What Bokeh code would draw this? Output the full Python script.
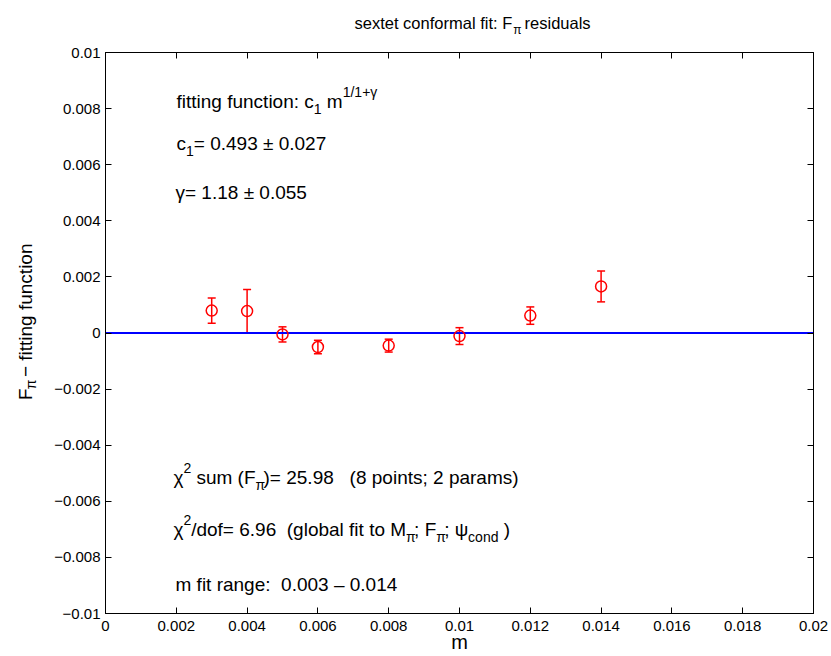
import math
from bokeh.plotting import figure
from bokeh.models import (Range1d, LinearAxis, FixedTicker, Whisker,
                          ColumnDataSource, TeeHead)
from bokeh.layouts import column, row
from bokeh.core.properties import value
from bokeh.embed import file_html
from bokeh.resources import INLINE

# ---------------- data ----------------
m_values = [0.003, 0.004, 0.005, 0.006, 0.008, 0.010, 0.012, 0.014]
residuals = [0.00080, 0.00078, -0.00005, -0.00050, -0.00045, -0.00011, 0.00062, 0.00166]
errors = [0.00045, 0.00077, 0.00027, 0.00024, 0.00023, 0.00030, 0.00031, 0.00055]

fit_m = [0.0, 0.02]
fit_res = [0.0, 0.0]

x_ticks = [0.0, 0.002, 0.004, 0.006, 0.008, 0.01, 0.012, 0.014, 0.016, 0.018, 0.02]
x_tick_labels = ["0", "0.002", "0.004", "0.006", "0.008", "0.01", "0.012",
                 "0.014", "0.016", "0.018", "0.02"]
y_ticks = [-0.01, -0.008, -0.006, -0.004, -0.002, 0.0, 0.002, 0.004, 0.006, 0.008, 0.01]
y_tick_labels = ["\u22120.01", "\u22120.008", "\u22120.006", "\u22120.004", "\u22120.002",
                 "0", "0.002", "0.004", "0.006", "0.008", "0.01"]

x_label = "m"
title_parts = [("sextet conformal fit: F", "n"), ("\u03c0", "sub"), (" residuals", "n")]
y_label_parts = [("F", "n"), ("\u03c0", "sub"), (" \u2212 fitting function", "n")]

note_lines = [
    [("fitting function: c", "n"), ("1", "sub"), (" m", "n"), ("1/1+\u03b3", "sup")],
    [("c", "n"), ("1", "sub"), ("= 0.493 \u00b1 0.027", "n")],
    [("\u03b3= 1.18 \u00b1 0.055", "n")],
    [("\u03c7", "n"), ("2", "sup"), (" sum (F", "n"), ("\u03c0", "sub"),
     (")= 25.98   ", "n"), ("(8 points; 2 params)", "n")],
    [("\u03c7", "n"), ("2", "sup"), ("/dof= 6.96  ", "n"), ("(global fit to M", "n"),
     ("\u03c0", "sub"), ("; F", "n"), ("\u03c0", "sub"), ("; \u03c8", "n"),
     ("cond", "sub"), (" )", "n")],
    [("m fit range:  ", "n"), ("0.003 \u2013 0.014", "n")],
]

# ---------------- layout ----------------
W, H = 831, 656
TITLE_H = 44
YLAB_W = 45
MAIN_W, MAIN_H = W - YLAB_W, H - TITLE_H
L2, R, T2, B = 60, 18, 8, 43
FL = YLAB_W + L2              # frame left on the canvas
FT = TITLE_H + T2             # frame top on the canvas
FW = MAIN_W - L2 - R
FH = MAIN_H - T2 - B
XMIN, XMAX = 0.0, 0.02
YMIN, YMAX = -0.01, 0.01
FONT = "Liberation Sans"
MAIN = 19.0
SUB = 14.0

# note placement (canvas pixels: start x, baseline y)
note_pos = [(176, 101), (176, 143), (175, 192), (173, 477), (173, 529), (175, 584)]

EM = {' ': .278, '(': .333, ')': .333, '+': .584, ',': .278, '-': .333, '.': .278,
      '/': .278, ':': .278, ';': .278, '=': .584, 'F': .611, 'M': .833,
      'a': .556, 'b': .556, 'c': .5, 'd': .556, 'e': .556, 'f': .278, 'g': .556,
      'i': .222, 'l': .222, 'm': .833, 'n': .556, 'o': .556, 'p': .556, 'r': .333,
      's': .5, 't': .278, 'u': .556, '\u00b1': .584, '\u2013': .556, '\u2212': .584,
      '\u03b3': .5, '\u03c0': .57, '\u03c7': .52, '\u03c8': .70}


def text_w(s, size):
    return sum(EM.get(ch, .556) for ch in s) * size


def layout_parts(parts, x0, y0, size, sub_size, sub_dy, sup_dy):
    """Returns list of (text, advance_pos, cross_offset, size) with leading
    spaces turned into advances (SVG trims them)."""
    out = []
    pos = x0
    for txt, kind in parts:
        sz = size if kind == "n" else sub_size
        off = 0.0 if kind == "n" else (sub_dy if kind == "sub" else sup_dy)
        lead = len(txt) - len(txt.lstrip(" "))
        body = txt.strip(" ")
        trail = len(txt) - len(txt.rstrip(" ")) if body else 0
        pos += lead * EM[' '] * sz
        out.append((body, pos, y0 + off, sz))
        pos += text_w(body, sz) + trail * EM[' '] * sz
    return out


# ---------------- main figure ----------------
p = figure(width=MAIN_W, height=MAIN_H, x_range=Range1d(XMIN, XMAX),
           y_range=Range1d(YMIN, YMAX), output_backend="svg", toolbar_location=None,
           min_border_left=L2, min_border_right=R, min_border_top=T2,
           min_border_bottom=B)
p.xgrid.visible = False
p.ygrid.visible = False
p.outline_line_color = "#000000"
p.background_fill_color = "white"
p.border_fill_color = "white"


def style_axis(ax, ticks, labels, show):
    ax.ticker = FixedTicker(ticks=ticks)
    ax.major_label_overrides = {t: (s if show else "") for t, s in zip(ticks, labels)}
    ax.major_tick_in = 6
    ax.major_tick_out = 0
    ax.minor_tick_in = 0
    ax.minor_tick_out = 0
    ax.axis_line_color = "#000000"
    ax.major_tick_line_color = "#000000"
    ax.major_label_text_font = FONT
    ax.major_label_text_font_size = "15px"
    ax.major_label_text_color = "#000000"


style_axis(p.xaxis[0], x_ticks, x_tick_labels, True)
p.xaxis[0].major_label_standoff = 7
p.xaxis[0].axis_label = x_label
p.xaxis[0].axis_label_text_font = FONT
p.xaxis[0].axis_label_text_font_size = "20px"
p.xaxis[0].axis_label_text_font_style = "normal"
p.xaxis[0].axis_label_text_color = "#000000"
p.xaxis[0].axis_label_standoff = -3
style_axis(p.yaxis[0], y_ticks, y_tick_labels, True)
p.yaxis[0].major_label_standoff = 5

top_ax = LinearAxis()
right_ax = LinearAxis()
style_axis(top_ax, x_ticks, x_tick_labels, False)
style_axis(right_ax, y_ticks, y_tick_labels, False)
for ax in (top_ax, right_ax):
    ax.major_label_text_font_size = "1px"
    ax.major_label_standoff = 0
p.add_layout(top_ax, "above")
p.add_layout(right_ax, "right")

p.line(fit_m, fit_res, line_color="#0000ff", line_width=2)

src = ColumnDataSource(dict(
    m=m_values, res=residuals,
    upper=[r + e for r, e in zip(residuals, errors)],
    lower=[r - e for r, e in zip(residuals, errors)],
))
wh = Whisker(base="m", upper="upper", lower="lower", source=src, dimension="height",
             line_color="#ff0000", line_width=1.5,
             upper_head=TeeHead(size=8, line_color="#ff0000", line_width=1.5),
             lower_head=TeeHead(size=8, line_color="#ff0000", line_width=1.5))
p.add_layout(wh)
p.scatter("m", "res", source=src, marker="circle", size=11, fill_color=None,
          line_color="#ff0000", line_width=1.5)


def dx(px):
    return XMIN + (px - FL) / FW * (XMAX - XMIN)


def dy(py):
    return YMAX - (py - FT) / FH * (YMAX - YMIN)


note_x, note_y, note_t, note_s = [], [], [], []
for parts, (x0, y0) in zip(note_lines, note_pos):
    for body, px, py, sz in layout_parts(parts, x0, y0, MAIN, SUB, 7.5, -9.5):
        note_x.append(dx(px))
        note_y.append(dy(py))
        note_t.append(body)
        note_s.append(f"{sz}px")
p.text(x=note_x, y=note_y, text=note_t, text_font=value(FONT), text_font_size=note_s,
       text_color="#000000", text_baseline="alphabetic", text_align="left")


def blank_fig(w, h):
    f = figure(width=w, height=h, x_range=Range1d(0, w), y_range=Range1d(0, h),
               output_backend="svg", toolbar_location=None, x_axis_type=None,
               y_axis_type=None, min_border=0)
    f.outline_line_color = None
    f.background_fill_color = "white"
    f.border_fill_color = "white"
    f.xgrid.visible = False
    f.ygrid.visible = False
    return f


# ---------------- title strip ----------------
tf = blank_fig(W, TITLE_H)
tx, ty, tt, ts = [], [], [], []
for body, px, py, sz in layout_parts(title_parts, 354, 22, 16.5, 12, 7, -8):
    tx.append(px)
    ty.append(TITLE_H - py)
    tt.append(body)
    ts.append(f"{sz}px")
tf.text(x=tx, y=ty, text=tt, text_font=value(FONT), text_font_size=ts,
        text_color="#000000", text_baseline="alphabetic", text_align="left")

# ---------------- y label strip ----------------
yf = blank_fig(YLAB_W, MAIN_H)
yx, yy, yt, ys = [], [], [], []
Y_START = 423      # canvas y where the rotated label begins (bottom end)
Y_BASE = 25        # canvas x of the rotated label's baseline
for body, adv, off, sz in layout_parts(y_label_parts, 0, Y_BASE, 19, 14, 5.5, -9):
    yx.append(off)
    yy.append(MAIN_H - (Y_START - adv - TITLE_H))
    yt.append(body)
    ys.append(f"{sz}px")
yf.text(x=yx, y=yy, text=yt, text_font=value(FONT), text_font_size=ys,
        text_color="#000000", text_baseline="alphabetic", text_align="left",
        angle=math.pi / 2)

layout = column(tf, row(yf, p, spacing=0), spacing=0)
open("out.html", "w").write(file_html(layout, INLINE))
